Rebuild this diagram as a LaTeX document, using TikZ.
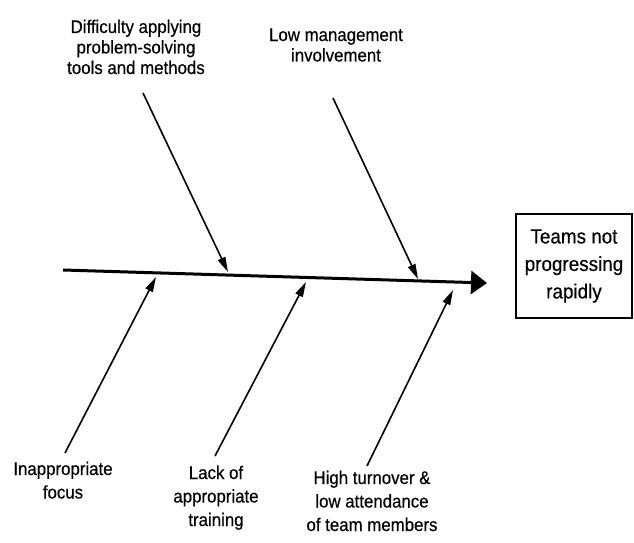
\documentclass[tikz,border=0pt]{standalone}
\usepackage{fontspec}
\setmainfont{Liberation Sans}[FakeStretch=0.92,FakeBold=0.4]
\usetikzlibrary{arrows.meta}
\tikzset{
  spine/.style={line width=3pt, -{Triangle[length=16pt,width=23pt]}},
  bone/.style={line width=1.6pt, -{Triangle[length=15pt,width=8pt]}},
  lbl/.style={align=center, inner sep=0pt, anchor=base, font=\fontsize{18.3}{20.5}\selectfont},
  lblb/.style={lbl, font=\fontsize{18.3}{23.5}\selectfont},
  effect/.style={draw, line width=1.3pt, align=center, minimum width=116pt, minimum height=104pt, inner sep=0pt, font=\fontsize{20.5}{27.5}\selectfont}
}
\begin{document}
\begin{tikzpicture}[x=1pt,y=-1pt]
\useasboundingbox (0,0) rectangle (634,543);
% effect
\node[effect] (box) at (574,266) {Teams not\\progressing\\rapidly};
% spine
\coordinate (s0) at (63,270);
\coordinate (s1) at (487,283);
\draw[spine] (s0) -- (s1);
% cause labels (base = baseline of last line)
\node[lbl] (c1) at (136,74) {Difficulty applying\\problem-solving\\tools and methods};
\node[lbl] (c2) at (336,61.5) {Low management\\involvement};
\node[lblb] (c3) at (63,498.5) {Inappropriate\\focus};
\node[lblb] (c4) at (216,526) {Lack of\\appropriate\\training};
\node[lblb] (c5) at (372,531) {High turnover \&\\low attendance\\of team members};
% bone ends
\coordinate (a1) at (143,93);  \coordinate (t1) at (228,272);
\coordinate (a2) at (333,98);  \coordinate (t2) at (418,279);
\coordinate (a3) at (65,453);  \coordinate (t3) at (156,277);
\coordinate (a4) at (215,456); \coordinate (t4) at (306,282);
\coordinate (a5) at (367,466); \coordinate (t5) at (453,290);
\draw[bone] (a1) -- (t1);
\draw[bone] (a2) -- (t2);
\draw[bone] (a3) -- (t3);
\draw[bone] (a4) -- (t4);
\draw[bone] (a5) -- (t5);
\end{tikzpicture}
\end{document}
